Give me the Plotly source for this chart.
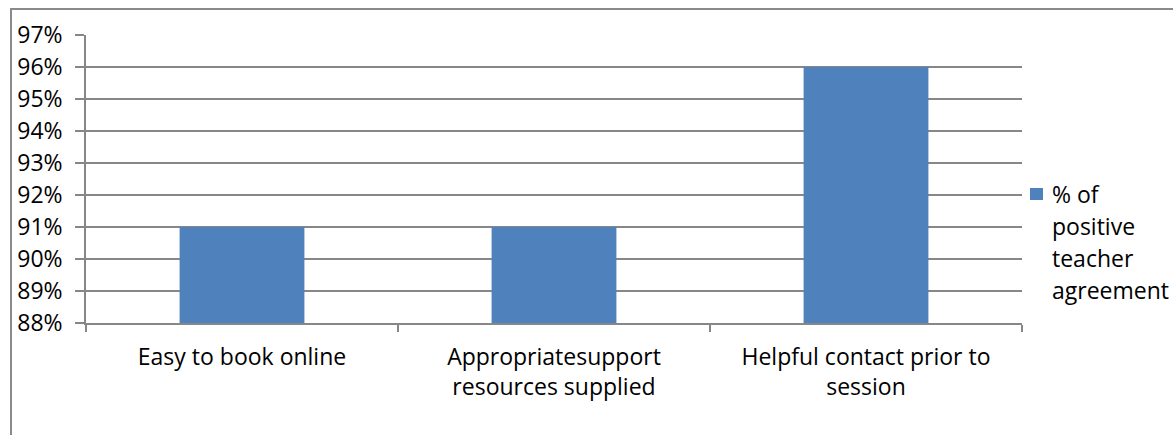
import plotly.graph_objects as go

# Survey results: share of teachers agreeing with each statement
categories = [
    "Easy to book online",
    "Appropriatesupport<br>resources supplied",
    "Helpful contact prior to<br>session",
]
agreement = [0.91, 0.91, 0.96]
series_name = ["% of", "positive", "teacher", "agreement"]
y_ticks = [0.88, 0.89, 0.90, 0.91, 0.92, 0.93, 0.94, 0.95, 0.96, 0.97]

W, H = 1173, 435
L, R, T, B = 86, 151, 35, 112
FONT = "Open Sans"
FSIZE = 23
BAR_COLOR = "#4f81bd"
GRID = "#878787"


def px_x(px):
    return (px - L) / (W - L - R)


def px_y(py):
    return (H - B - py) / (H - T - B)


fig = go.Figure(
    go.Bar(
        x=categories,
        y=agreement,
        marker=dict(color=BAR_COLOR, line=dict(width=0)),
        width=0.4,
        showlegend=False,
    )
)

fig.update_layout(
    width=W,
    height=H,
    margin=dict(l=L, r=R, t=T, b=B),
    paper_bgcolor="white",
    plot_bgcolor="white",
    font=dict(family=FONT, size=FSIZE, color="#000000"),
    bargap=0.6,
)

fig.update_yaxes(
    range=[0.88, 0.97],
    tickvals=y_ticks,
    tickformat=".0%",
    showgrid=True,
    gridcolor=GRID,
    gridwidth=1.5,
    zeroline=False,
    showline=True,
    linecolor=GRID,
    linewidth=1.5,
    ticks="outside",
    ticklen=9,
    tickcolor=GRID,
    tickwidth=1.5,
    ticklabelstandoff=8,
)

fig.update_xaxes(
    showline=True,
    linecolor=GRID,
    linewidth=1.5,
    ticks="outside",
    tickson="boundaries",
    ticklen=7,
    tickcolor=GRID,
    tickwidth=1.5,
    showgrid=False,
    ticklabelstandoff=13,
)

# Outer chart frame (runs off the right and bottom edges)
fig.add_shape(
    type="rect", xref="paper", yref="paper",
    x0=px_x(11), x1=px_x(W + 20), y0=px_y(H + 20), y1=px_y(9),
    line=dict(color="#8a8a8a", width=2), fillcolor="rgba(0,0,0,0)",
    layer="below",
)

# Legend: swatch plus wrapped series name
fig.add_shape(
    type="rect", xref="paper", yref="paper",
    x0=px_x(1030), x1=px_x(1043), y0=px_y(200), y1=px_y(188),
    line=dict(width=0), fillcolor=BAR_COLOR,
)
for i, line in enumerate(series_name):
    fig.add_annotation(
        x=px_x(1050), y=px_y(194 + 32 * i), xref="paper", yref="paper",
        text=line, showarrow=False, xanchor="left", yanchor="middle",
        font=dict(family=FONT, size=FSIZE, color="#000000"),
    )

fig.write_html("out.html")
